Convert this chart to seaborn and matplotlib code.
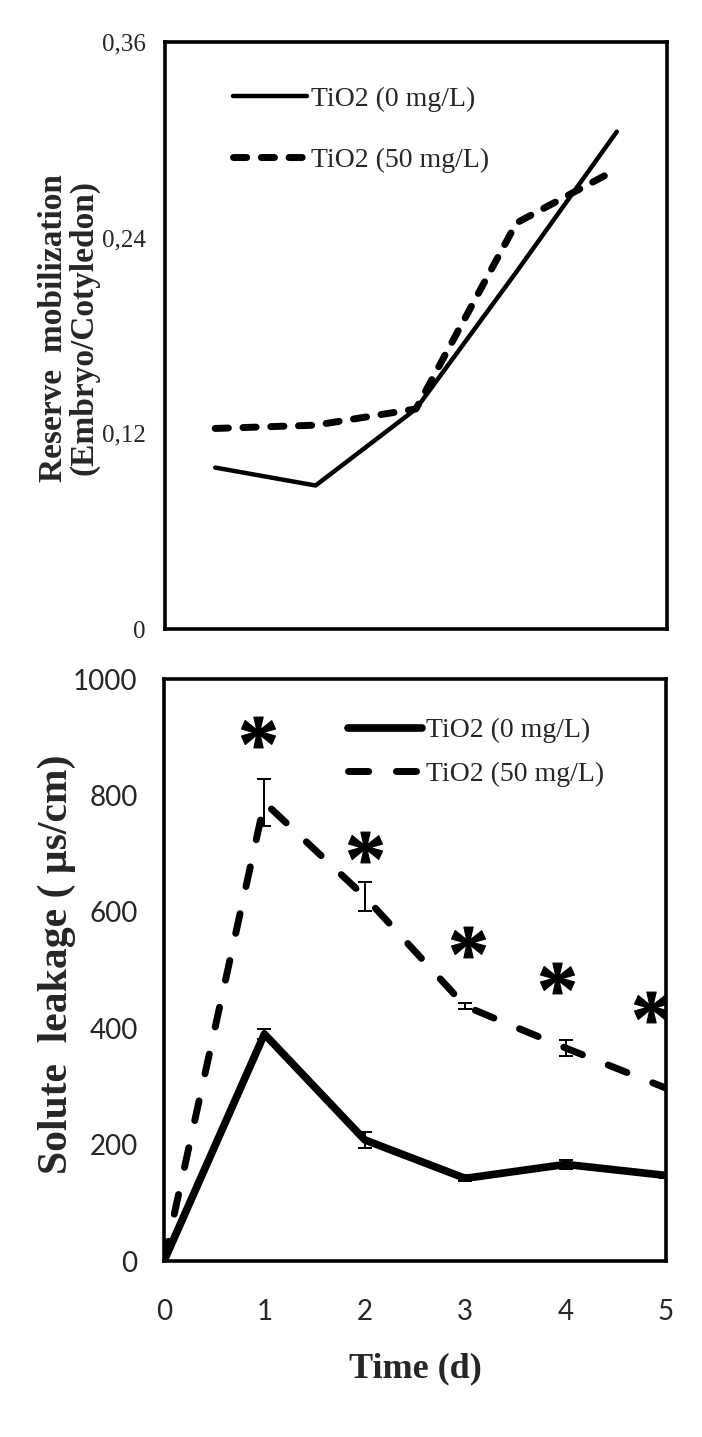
import numpy as np
import matplotlib
matplotlib.use("Agg")
import matplotlib.pyplot as plt
import matplotlib.font_manager as fm
from matplotlib.path import Path
from matplotlib.textpath import TextPath
from matplotlib.font_manager import FontProperties
import seaborn as sns

# ---------------- data ----------------
top_days = [1, 2, 3, 4, 5]
top_ctrl = [0.099, 0.088, 0.135, 0.219, 0.305]
top_tio2 = [0.123, 0.125, 0.135, 0.249, 0.282]
top_yticks = [0, 0.12, 0.24, 0.36]
top_yticklabels = ["0", "0,12", "0,24", "0,36"]

bot_days = [0, 1, 2, 3, 4, 5]
bot_ctrl = [0, 390, 208, 142, 166, 147]
bot_ctrl_err = [0, 8, 13, 5, 8, 5]
bot_tio2 = [0, 788, 626, 438, 366, 297]
bot_tio2_err = [0, 40, 25, 5, 14, 0]
bot_yticks = [0, 200, 400, 600, 800, 1000]
bot_xticks = [0, 1, 2, 3, 4, 5]

star_x = [0.94, 2.0, 3.03, 3.91, 4.85]
star_y = [909, 711, 548, 486, 436]

lab_ctrl = "TiO2 (0 mg/L)"
lab_tio2 = "TiO2 (50 mg/L)"

# ---------------- style ----------------
sns.set_style("white")
avail = {f.name for f in fm.fontManager.ttflist}
SERIF = "Liberation Serif" if "Liberation Serif" in avail else "DejaVu Serif"
if "Liberation Sans Narrow" in avail:
    NARROW = dict(family="Liberation Sans Narrow")
elif "Lato" in avail:
    NARROW = dict(family="Lato")
else:
    NARROW = dict(family="DejaVu Sans")
plt.rcParams["font.family"] = [SERIF, "DejaVu Sans"]

GREY = "#7f7f7f"

fig = plt.figure(figsize=(7.02, 14.37), dpi=100)
W, H = 702, 1437

def ax_rect(l, r, t, b):
    return [l / W, 1 - b / H, (r - l) / W, (b - t) / H]

ax1 = fig.add_axes(ax_rect(165, 667, 42, 629))
ax2 = fig.add_axes(ax_rect(164, 666, 679, 1261))

for ax in (ax1, ax2):
    for s in ax.spines.values():
        s.set_color("black")
        s.set_linewidth(2.6)
        s.set_visible(True)

# ---------------- top panel ----------------
sns.lineplot(x=top_days, y=top_ctrl, ax=ax1, color="black", lw=3.2,
             label=lab_ctrl, solid_capstyle="round", solid_joinstyle="round")
sns.lineplot(x=top_days, y=top_tio2, ax=ax1, color="black", lw=5.0,
             linestyle=(0, (1.9, 2.1)), dash_capstyle="round",
             dash_joinstyle="round", label=lab_tio2)
ax1.set_xlim(0.5, 5.5)
ax1.set_ylim(0, 0.36)
ax1.set_xticks([1.5, 2.5, 3.5, 4.5])
ax1.set_xticklabels([])
ax1.set_yticks(top_yticks)
ax1.set_yticklabels(top_yticklabels)
ax1.tick_params(axis="both", direction="in", color=GREY, width=1.6, length=7)
ax1.tick_params(axis="y", pad=14, labelsize=18)
ax1.set_xlabel("")
ax1.set_ylabel("Reserve  mobilization\n(Embryo/Cotyledon)", fontsize=24,
               fontweight="bold", family=SERIF, linespacing=0.98)
ax1.yaxis.set_label_coords(-0.191, 0.513)
ax1.yaxis.label.set_va("center")
ax1.legend(loc="upper left", bbox_to_anchor=(0.135, 0.924), frameon=False,
           fontsize=20, handlelength=2.66, handletextpad=0.15,
           labelspacing=1.26, borderpad=0, borderaxespad=0)

# ---------------- bottom panel ----------------
sns.lineplot(x=bot_days, y=bot_ctrl, ax=ax2, color="black", lw=5.5,
             label=lab_ctrl, solid_capstyle="round", solid_joinstyle="round")
sns.lineplot(x=bot_days, y=bot_tio2, ax=ax2, color="black", lw=5.0,
             linestyle=(0, (2.9, 4.0)), dash_capstyle="round",
             dash_joinstyle="round", label=lab_tio2)

bx = np.array(bot_days, dtype=float)
for vals, errs in ((bot_ctrl, bot_ctrl_err), (bot_tio2, bot_tio2_err)):
    v = np.array(vals, dtype=float)
    e = np.array(errs, dtype=float)
    m = e > 0
    ax2.errorbar(bx[m], v[m], yerr=e[m], fmt="none", ecolor="black",
                 elinewidth=1.4, capsize=5, capthick=1.4, zorder=3)

# asterisk marker from a centred text path
tp = TextPath((0, 0), "*", prop=FontProperties(family=SERIF, weight="bold"), size=10)
codes = np.array(tp.codes)
verts = tp.vertices.copy()
real = codes != Path.CLOSEPOLY
cx = (verts[real, 0].min() + verts[real, 0].max()) / 2
cy = (verts[real, 1].min() + verts[real, 1].max()) / 2
verts[:, 0] -= cx
verts[:, 1] -= cy
verts[~real] = 0.0
star_path = Path(verts, codes)
ax2.scatter(star_x, star_y, marker=star_path, s=600, color="black",
            edgecolors="black", linewidths=0.8, zorder=4)

ax2.set_xlim(0, 5)
ax2.set_ylim(0, 1000)
ax2.set_xticks(bot_xticks)
ax2.set_yticks(bot_yticks)
ax2.tick_params(axis="y", direction="in", color=GREY, width=1.6, length=7, pad=19)
ax2.tick_params(axis="x", length=0, pad=27)
for lab in ax2.get_xticklabels() + ax2.get_yticklabels():
    lab.set_fontproperties(FontProperties(size=20, **NARROW))

ax2.set_xlabel("Time (d)", fontsize=26, fontweight="bold", family=SERIF)
ax2.xaxis.set_label_coords(0.5, -(1352 - 1261) / 582)
ax2.xaxis.label.set_va("top")
ax2.set_ylabel("Solute  leakage ( µs/cm)", fontsize=30, fontweight="bold",
               family=SERIF)
ax2.yaxis.set_label_coords(-0.213, 0.51)
ax2.yaxis.label.set_va("center")
ax2.legend(loc="upper left", bbox_to_anchor=(0.3665, 0.933), frameon=False,
           fontsize=20, handlelength=2.66, handletextpad=0.15,
           labelspacing=0.65, borderpad=0, borderaxespad=0)

fig.savefig("out.png", dpi=100)
